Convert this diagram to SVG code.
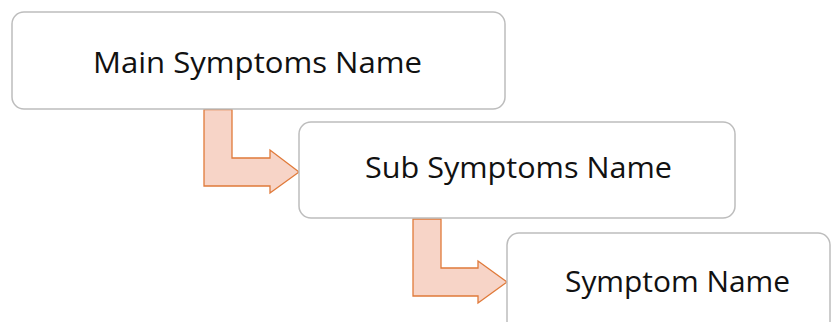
<svg xmlns="http://www.w3.org/2000/svg" width="834" height="322" viewBox="0 0 834 322">
  <style>
    .box { fill: #ffffff; stroke: #bdbdbd; stroke-width: 1.5; }
    .label { font-family: "Open Sans", "Noto Sans", sans-serif; font-size: 29px; fill: #111111; text-anchor: middle; }
    .bent { fill: #f7d4c7; stroke: #e07a3a; stroke-width: 1.3; stroke-linejoin: miter; }
  </style>
  <rect width="834" height="322" fill="#ffffff"/>

  <g id="connectors">
    <path class="bent" d="M204,109.5 H232 V158 H270 V150 L299,172 L270,193 V186 H204 Z"/>
    <path class="bent" d="M413,219 H441 V268 H478 V261 L507,282 L478,303 V296 H413 Z"/>
  </g>

  <g id="main-symptoms">
    <rect class="box" x="12" y="12" width="493" height="97" rx="12"/>
    <text class="label" x="257.5" y="73" textLength="329" lengthAdjust="spacingAndGlyphs">Main Symptoms Name</text>
  </g>

  <g id="sub-symptoms">
    <rect class="box" x="299" y="122" width="436" height="96" rx="12"/>
    <text class="label" x="518.5" y="178" textLength="307" lengthAdjust="spacingAndGlyphs">Sub Symptoms Name</text>
  </g>

  <g id="symptom">
    <rect class="box" x="507" y="233" width="323" height="110" rx="12"/>
    <text class="label" x="677.5" y="292" textLength="225" lengthAdjust="spacingAndGlyphs">Symptom Name</text>
  </g>
</svg>
